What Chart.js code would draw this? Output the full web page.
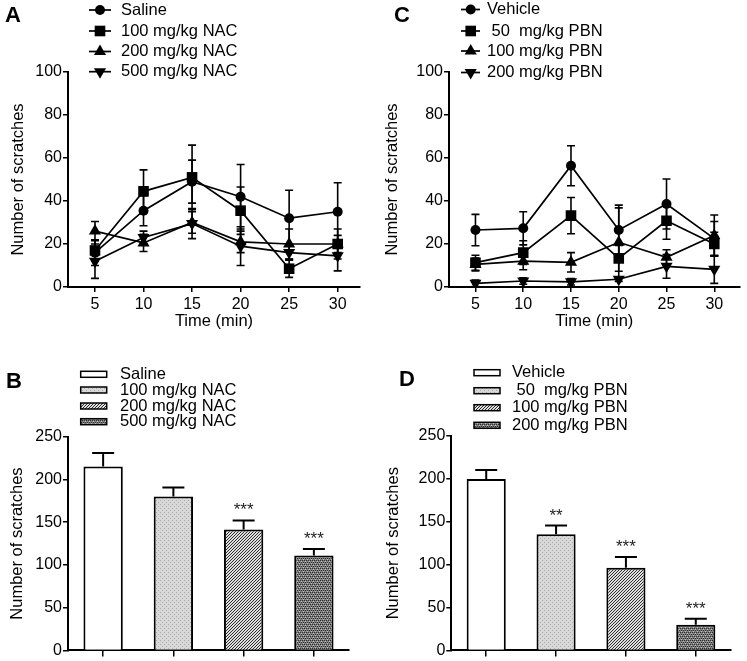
<!DOCTYPE html>
<html>
<head>
<meta charset="utf-8">
<script src="https://cdn.jsdelivr.net/npm/chart.js@4.4.0/dist/chart.umd.min.js"></script>
<style>
  body { margin: 0; background: #fff; }
  #wrap { position: relative; width: 747px; height: 661px; }
  canvas { position: absolute; }
</style>
</head>
<body>
<div id="wrap">
  <canvas id="panelA" width="374" height="332" style="left:0;top:0"></canvas>
  <canvas id="panelC" width="373" height="332" style="left:374px;top:0"></canvas>
  <canvas id="panelB" width="374" height="329" style="left:0;top:332px"></canvas>
  <canvas id="panelD" width="373" height="329" style="left:374px;top:332px"></canvas>
</div>
<script>
// ---- data ----
const timePoints = [5, 10, 15, 20, 25, 30];
const lineTicks = [0, 20, 40, 60, 80, 100];
const barTicks = [0, 50, 100, 150, 200, 250];

// NAC groups (A: time course, B: total)
const nacGroups = ['Saline', '100 mg/kg NAC', '200 mg/kg NAC', '500 mg/kg NAC'];
const nacSaline = [16, 35.5, 49, 42, 32, 35];
const nacSalineErr = [6, 7, 10, 15, 13, 13.5];
const nac100 = [17, 44.5, 51, 35.5, 8.5, 20];
const nac100Err = [5, 10, 15, 11, 4, 7];
const nac200 = [26, 20.5, 30, 21, 20, 20];
const nac200Err = [4.5, 4, 5, 5, 7, 4];
const nac500 = [12, 23, 29.5, 19, 16, 14.5];
const nac500Err = [8, 3, 7, 9, 3, 7];
const nacTotals = [215, 180, 141.5, 111];
const nacTotalsErr = [16, 10.5, 10.5, 7.5];
const nacStars = ['', '', '***', '***'];

// PBN groups (C: time course, D: total)
const pbnGroups = ['Vehicle', ' 50  mg/kg PBN', '100 mg/kg PBN', '200 mg/kg PBN'];
const pbnVehicle = [26.5, 27.3, 56.4, 26.5, 38.6, 22.5];
const pbnVehicleErr = [7.3, 7.7, 9.3, 11.6, 11.6, 8];
const pbn50 = [11.3, 16, 33.2, 13.3, 30.8, 20];
const pbn50Err = [3.5, 5.5, 8.4, 6, 8.6, 5.5];
const pbn100 = [10.5, 12, 11.5, 20.8, 13.8, 24];
const pbn100Err = [3, 4, 4.5, 16, 3.5, 9.5];
const pbn200 = [1.7, 2.8, 2.4, 3.6, 9.6, 8.2];
const pbn200Err = [1.5, 1.5, 1.5, 1, 5.5, 6.5];
const pbnTotals = [200, 135.5, 96.5, 30];
const pbnTotalsErr = [10.5, 10, 12.5, 7];
const pbnStars = ['', '**', '***', '***'];

// ---- styles ----
const FONT = '"Liberation Sans", Arial, sans-serif';
Chart.defaults.font.family = FONT;
Chart.defaults.font.size = 16;
Chart.defaults.color = '#000';

const markers = [
  { pointStyle: 'circle', radius: 5, rotation: 0 },
  { pointStyle: 'rect', radius: 7.5, rotation: 0 },
  { pointStyle: 'triangle', radius: 7, rotation: 0 },
  { pointStyle: 'triangle', radius: 7, rotation: 180 }
];

function makePattern(kind) {
  if (kind === 'white') return '#ffffff';
  const c = document.createElement('canvas');
  const g = c.getContext('2d');
  if (kind === 'dots') {
    c.width = 4; c.height = 4;
    g.fillStyle = '#d8d8d8'; g.fillRect(0, 0, 4, 4);
    g.fillStyle = '#ababab'; g.fillRect(0, 0, 1, 1); g.fillRect(2, 2, 1, 1);
  } else if (kind === 'hatch') {
    c.width = 3; c.height = 3;
    g.fillStyle = '#dedede'; g.fillRect(0, 0, 3, 3);
    g.fillStyle = '#2e2e2e';
    for (let i = 0; i < 3; i++) g.fillRect(i, 2 - i, 1, 1);
  } else {
    c.width = 4; c.height = 4;
    g.fillStyle = '#808080'; g.fillRect(0, 0, 4, 4);
    g.fillStyle = '#2e2e2e';
    g.fillRect(0, 0, 1, 1); g.fillRect(2, 0, 1, 1); g.fillRect(1, 2, 1, 1); g.fillRect(3, 2, 1, 1);
    g.fillStyle = '#c4c4c4';
    g.fillRect(1, 1, 1, 1); g.fillRect(3, 3, 1, 1);
  }
  return g.createPattern(c, 'repeat');
}
const barFills = ['white', 'dots', 'hatch', 'weave'].map(makePattern);

// ---- axes ----
function yAxis(ticks, width, titlePad) {
  return {
    min: ticks[0],
    max: ticks[ticks.length - 1],
    afterBuildTicks: ax => { ax.ticks = ticks.map(v => ({ value: v })); },
    afterFit: ax => { ax.width = width; },
    border: { display: true, color: '#000', width: 2 },
    grid: { drawOnChartArea: false, color: '#000', lineWidth: 1.5, tickLength: 5 },
    ticks: { padding: 1, font: { size: 16 } },
    title: { display: true, text: 'Number of scratches', font: { size: 16.5 }, padding: { top: titlePad, bottom: 0 } }
  };
}

function timeAxis(min, max) {
  return {
    type: 'linear',
    min: min,
    max: max,
    afterBuildTicks: ax => { ax.ticks = timePoints.map(v => ({ value: v })); },
    afterFit: ax => { ax.height = 45; },
    border: { display: true, color: '#000', width: 2 },
    grid: { drawOnChartArea: false, color: '#000', lineWidth: 1.5, tickLength: 5 },
    ticks: { padding: 3, font: { size: 16 } },
    title: { display: true, text: 'Time (min)', font: { size: 16.5 }, padding: { top: 0, bottom: 1 } }
  };
}

function groupAxis() {
  return {
    type: 'category',
    offset: true,
    afterFit: ax => { ax.height = 8.7; },
    border: { display: true, color: '#000', width: 2 },
    grid: { drawOnChartArea: false, offset: false, color: '#000', lineWidth: 1.5, tickLength: 6 },
    ticks: { display: false }
  };
}

// ---- plugins ----
function lineErrorPlugin() {
  return {
    id: 'lineErrors',
    beforeDatasetsDraw(chart) {
      const ctx = chart.ctx, y = chart.scales.y;
      ctx.save();
      ctx.strokeStyle = '#000';
      ctx.lineWidth = 1.6;
      chart.data.datasets.forEach((ds, di) => {
        chart.getDatasetMeta(di).data.forEach((pt, i) => {
          const v = ds.data[i].y, e = ds.errors[i];
          const top = y.getPixelForValue(v + e), bot = y.getPixelForValue(v - e);
          ctx.beginPath();
          ctx.moveTo(pt.x, top); ctx.lineTo(pt.x, bot);
          ctx.moveTo(pt.x - 4, top); ctx.lineTo(pt.x + 4, top);
          ctx.moveTo(pt.x - 4, bot); ctx.lineTo(pt.x + 4, bot);
          ctx.stroke();
        });
      });
      ctx.restore();
    }
  };
}

function barErrorPlugin() {
  return {
    id: 'barErrors',
    afterDatasetsDraw(chart) {
      const ctx = chart.ctx, y = chart.scales.y;
      const ds = chart.data.datasets[0];
      ctx.save();
      chart.getDatasetMeta(0).data.forEach((bar, i) => {
        const top = y.getPixelForValue(ds.data[i] + ds.errors[i]);
        ctx.strokeStyle = '#000';
        ctx.lineWidth = 2;
        ctx.beginPath();
        ctx.moveTo(bar.x, bar.y); ctx.lineTo(bar.x, top);
        ctx.moveTo(bar.x - 11, top); ctx.lineTo(bar.x + 11, top);
        ctx.stroke();
        if (ds.stars[i]) {
          ctx.fillStyle = '#222';
          ctx.font = '17px ' + FONT;
          ctx.textAlign = 'center';
          ctx.textBaseline = 'alphabetic';
          ctx.fillText(ds.stars[i], bar.x, top - 5);
        }
      });
      ctx.restore();
    }
  };
}

function drawLetter(ctx, letter, x, y) {
  ctx.fillStyle = '#000';
  ctx.font = 'bold 22px ' + FONT;
  ctx.textAlign = 'left';
  ctx.textBaseline = 'alphabetic';
  ctx.fillText(letter, x, y);
}

function lineLegendPlugin(labels, lay) {
  return {
    id: 'lineLegend',
    afterDraw(chart) {
      const ctx = chart.ctx;
      ctx.save();
      drawLetter(ctx, lay.letter, lay.lx, lay.ly);
      labels.forEach((lab, i) => {
        const yy = lay.rows[i];
        ctx.strokeStyle = '#000';
        ctx.lineWidth = 1.7;
        ctx.beginPath();
        ctx.moveTo(lay.from, yy); ctx.lineTo(lay.to, yy);
        ctx.stroke();
        ctx.fillStyle = '#000';
        Chart.helpers.drawPoint(ctx, Object.assign({ borderWidth: 0 }, markers[i]), lay.mark, yy);
        ctx.font = '16.5px ' + FONT;
        ctx.textAlign = 'left';
        ctx.textBaseline = 'middle';
        ctx.fillText(lab, lay.text, yy);
      });
      ctx.restore();
    }
  };
}

function barLegendPlugin(labels, lay) {
  return {
    id: 'barLegend',
    afterDraw(chart) {
      const ctx = chart.ctx;
      ctx.save();
      drawLetter(ctx, lay.letter, lay.lx, lay.ly);
      labels.forEach((lab, i) => {
        const yy = lay.rows[i];
        ctx.fillStyle = barFills[i];
        ctx.fillRect(lay.sx, yy - 3, 26, 6);
        ctx.strokeStyle = '#000';
        ctx.lineWidth = 1.5;
        ctx.strokeRect(lay.sx, yy - 3, 26, 6);
        ctx.fillStyle = '#000';
        ctx.font = '16.5px ' + FONT;
        ctx.textAlign = 'left';
        ctx.textBaseline = 'middle';
        ctx.fillText(lab, lay.text, yy);
      });
      ctx.restore();
    }
  };
}

// ---- charts ----
function lineChart(id, labels, series, errors, pad, yWidth, yTitlePad, xMin, xMax, lay) {
  new Chart(document.getElementById(id), {
    type: 'line',
    data: {
      datasets: series.map((s, i) => ({
        label: labels[i],
        data: timePoints.map((t, k) => ({ x: t, y: s[k] })),
        errors: errors[i],
        borderColor: '#000',
        borderWidth: 1.7,
        backgroundColor: '#000',
        pointBackgroundColor: '#000',
        pointBorderColor: '#000',
        pointBorderWidth: 0,
        pointStyle: markers[i].pointStyle,
        pointRadius: markers[i].radius,
        pointRotation: markers[i].rotation,
        fill: false,
        tension: 0
      }))
    },
    options: {
      responsive: false,
      animation: false,
      events: [],
      layout: { padding: pad },
      plugins: { legend: { display: false }, tooltip: { enabled: false } },
      scales: { x: timeAxis(xMin, xMax), y: yAxis(lineTicks, yWidth, yTitlePad) }
    },
    plugins: [lineErrorPlugin(), lineLegendPlugin(labels, lay)]
  });
}

function barChart(id, labels, totals, errs, stars, pad, yWidth, yTitlePad, lay) {
  new Chart(document.getElementById(id), {
    type: 'bar',
    data: {
      labels: labels,
      datasets: [{
        data: totals,
        errors: errs,
        stars: stars,
        backgroundColor: barFills,
        borderColor: '#000',
        borderWidth: 2,
        barPercentage: 0.56,
        categoryPercentage: 1
      }]
    },
    options: {
      responsive: false,
      animation: false,
      events: [],
      layout: { padding: pad },
      plugins: { legend: { display: false }, tooltip: { enabled: false } },
      scales: { x: groupAxis(), y: yAxis(barTicks, yWidth, yTitlePad) }
    },
    plugins: [barErrorPlugin(), barLegendPlugin(labels, lay)]
  });
}

lineChart('panelA', nacGroups,
  [nacSaline, nac100, nac200, nac500],
  [nacSalineErr, nac100Err, nac200Err, nac500Err],
  { left: 0, top: 72, right: 14, bottom: 0 }, 68, 8.1, 2.22, 32.3,
  { letter: 'A', lx: 5, ly: 22, from: 89, to: 111, mark: 100, text: 121, rows: [10, 31, 51.5, 71.7] });

lineChart('panelC', pbnGroups,
  [pbnVehicle, pbn50, pbn100, pbn200],
  [pbnVehicleErr, pbn50Err, pbn100Err, pbn200Err],
  { left: 0, top: 72, right: 2, bottom: 0 }, 75, 8.6, 2.23, 32.64,
  { letter: 'C', lx: 20, ly: 22, from: 87, to: 106, mark: 96.7, text: 113, rows: [9.5, 31, 51, 72.5] });

barChart('panelB', nacGroups, nacTotals, nacTotalsErr, nacStars,
  { left: 0, top: 104.7, right: 25, bottom: 0 }, 68, 7.6,
  { letter: 'B', lx: 6, ly: 56.3, sx: 80.7, text: 120, rows: [42.3, 58, 74, 89.7] });

barChart('panelD', pbnGroups, pbnTotals, pbnTotalsErr, pbnStars,
  { left: 0, top: 104, right: 16.3, bottom: 0 }, 77.3, 9.3,
  { letter: 'D', lx: 25, ly: 53.5, sx: 100, text: 138, rows: [40.7, 58.7, 75.7, 93.3] });
</script>
</body>
</html>
